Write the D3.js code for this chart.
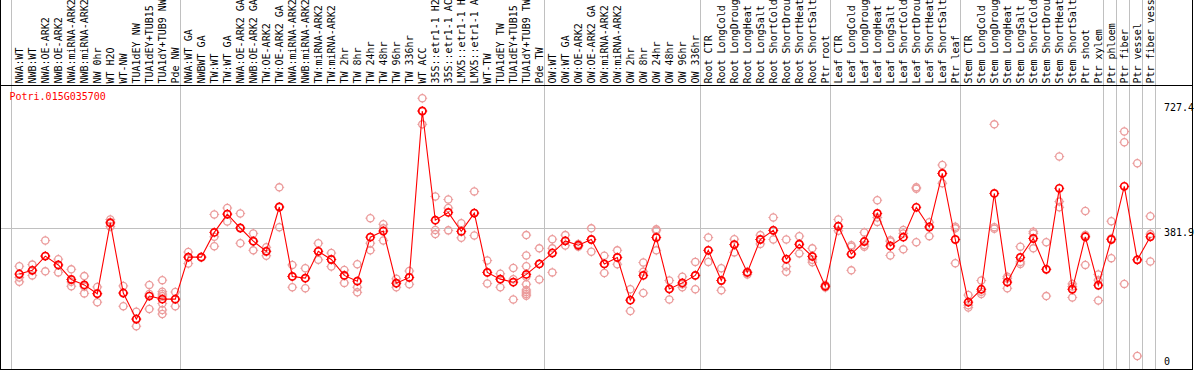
<!DOCTYPE html>
<html><head><meta charset="utf-8">
<script src="https://cdn.jsdelivr.net/npm/d3@7"></script>
<style>
body{margin:0;background:#fff}
svg{display:block}
text{font-family:"DejaVu Sans Mono",monospace;font-size:10px}
</style>
</head><body>
<svg id="c" width="1194" height="370"></svg>
<script>
const geneName = "Potri.015G035700";
const categories = [
"NWA:WT","NWB:WT","NWA:OE-ARK2","NWB:OE-ARK2","NWA:miRNA-ARK2","NWB:miRNA-ARK2","NW 0hr","WT H2O","WT-NW","TUA1dEY NW","TUA1dEY+TUB15 NW","TUA1dY+TUB9 NW","Pde NW",
"NWA:WT GA","NWBWT GA","TW:WT","TW:WT GA","NWA:OE-ARK2 GA","NWB:OE-ARK2 GA","TW:OE-ARK2","TW:OE-ARK2 GA","NWA:miRNA-ARK2 GA","NWB:miRNA-ARK2 GA","TW:miRNA-ARK2","TW:miRNA-ARK2 GA","TW 2hr","TW 8hr","TW 24hr","TW 48hr","TW 96hr","TW 336hr","WT ACC","35S::etr1-1 H2O","35S::etr1-1 ACC","LMX5::etr1-1 H2O","LMX5::etr1-1 ACC","WT-TW","TUA1dEY TW","TUA1dEY+TUB15 TW","TUA1dY+TUB9 TW","Pde TW",
"OW:WT","OW:WT GA","OW:OE-ARK2","OW:OE-ARK2 GA","OW:miRNA-ARK2","OW:miRNA-ARK2 GA","OW 2hr","OW 8hr","OW 24hr","OW 48hr","OW 96hr","OW 336hr",
"Root CTR","Root LongCold","Root LongDrought","Root LongHeat","Root LongSalt","Root ShortCold","Root ShortDrought","Root ShortHeat","Root ShortSalt","Ptr root",
"Leaf CTR","Leaf LongCold","Leaf LongDrought","Leaf LongHeat","Leaf LongSalt","Leaf ShortCold","Leaf ShortDrought","Leaf ShortHeat","Leaf ShortSalt","Ptr leaf",
"Stem CTR","Stem LongCold","Stem LongDrought","Stem LongHeat","Stem LongSalt","Stem ShortCold","Stem ShortDrought","Stem ShortHeat","Stem ShortSalt","Ptr shoot","Ptr xylem",
"Ptr phloem","Ptr fiber","Ptr vessel","Ptr fiber vessel"
];
const means = [
246,257,299,273,230,214,188,397,190,113,181,172,172,
296,296,369,423,382,343,313,444,239,
234,313,289,242,225,355,373,219,236,727.4,405,428,372,426,251,231,222,245,276,
308,344,331,348,
276,295,169,242,354,202,220,242,
316,227,333,251,348,375,290,334,298,210,
387,305,342,425,329,355,443,385,543,348,
163,201,484,222,295,351,260,499,201,356,
213,348,505,288,356
];
const replicates = [
[269,236,223],[274,257,242],[345,299,254],[290,273,251],[260,223,210],[240,209,189],[208,188,163],[407,400,386],[211,190,151],[135,113,92],[214,187,143],[228,194,187,181,159,140,128],[193,172,151],
[311,296,277],[297,296,295],[422,356,328],[441,423,401],[425,382,337],[366,343,316],[325,313,300],[502,444,384],[273,239,207],
[263,234,204],[337,313,288],[308,289,268],[258,242,220],[275,207,192],[411,337,316],[393,381,345],[232,219,207],[255,236,216],[765,727,688],[475,376,364],[466,441,375],[396,372,353],[490,426,360],[286,251,218],[247,231,207],[264,231,171],[361,301,269,238,216,199,193,187,182],[322,276,230],
[349,322,251],[361,344,330],[335,331,327],[381,348,312],
[300,276,249],[316,295,275],[201,169,137],[280,253,190],[378,374,316],[227,202,171],[238,216,207],[282,242,201],
[354,316,282],[263,227,198],[349,333,310],[253,250,245],[361,348,335],[413,375,348],[348,268,253],[358,334,307],[322,288,281],[214,210,206],
[407,387,374],[331,327,257],[369,332,327],[464,413,400],[346,342,301],[376,366,319],[502,498,340],[399,385,358],[568,543,514],[386,381,278],
[184,154,147],[227,194,187],[688,384,380],[238,233,204],[327,282,276],[371,366,322],[340,260,181],[593,460,443],[217,209,177],[432,361,273],
[245,228,168],[402,351,293],[667,635,217],[573,288,4],[417,364,283]
];
const groupStarts = [0,13,41,53,63,73,84,85,86,87,88];
const refValue = 381.9;
const yTicks = [0, 381.9, 727.4];

const W = 1194, H = 370;
const headerY = 85.5, bottomY = 369.5;
const svg = d3.select("#c");

const x = d3.scaleLinear().domain([0, categories.length - 1]).range([19.3, 1150.3]);
const y = d3.scaleLinear().domain([0, 727.4]).range([357.4, 111]);

const grid = "#c0c0c0";
// vertical group gridlines
svg.append("g").selectAll("line").data(groupStarts).join("line")
  .attr("x1", d => Math.round(x(d) - 8) + 0.5).attr("x2", d => Math.round(x(d) - 8) + 0.5)
  .attr("y1", 0).attr("y2", bottomY)
  .attr("stroke", grid).attr("stroke-width", 1);
// horizontal reference gridline
svg.append("line")
  .attr("x1", 1).attr("x2", 1161)
  .attr("y1", Math.round(y(refValue)) + 0.5).attr("y2", Math.round(y(refValue)) + 0.5)
  .attr("stroke", grid).attr("stroke-width", 1);

// frame
svg.append("line").attr("x1", 0.5).attr("x2", 0.5).attr("y1", 0).attr("y2", H).attr("stroke", "#000");
svg.append("line").attr("x1", 1192.5).attr("x2", 1192.5).attr("y1", 0).attr("y2", H).attr("stroke", "#000");
svg.append("line").attr("x1", 0).attr("x2", 1193).attr("y1", headerY).attr("y2", headerY).attr("stroke", "#000");
svg.append("line").attr("x1", 0).attr("x2", 1193).attr("y1", bottomY).attr("y2", bottomY).attr("stroke", "#000");

// category labels
svg.append("g").selectAll("text").data(categories).join("text")
  .attr("transform", (d, i) => `translate(${x(i) + 4},83.5) rotate(-90)`)
  .attr("fill", "#000")
  .text(d => d);

// title
svg.append("text").attr("x", 9.5).attr("y", 99.5).attr("fill", "#ff0000").text(geneName);

// right axis labels
svg.append("g").selectAll("text").data(yTicks).join("text")
  .attr("x", 1164)
  .attr("y", d => d === d3.max(yTicks) ? y(d) - 0.5 : y(d) + 8)
  .attr("fill", "#000")
  .text(d => d === 0 ? "0" : d3.format(".1f")(d));

function marker(g, cx, cy, color, sw) {
  const r = 3.6;
  g.append("circle").attr("cx", cx).attr("cy", cy).attr("r", r)
    .attr("fill", "none").attr("stroke", color).attr("stroke-width", sw);
  const t = 1.3;
  g.append("path")
    .attr("d", `M${cx},${cy - r - t}V${cy - r + 0.3}M${cx},${cy + r - 0.3}V${cy + r + t}M${cx - r - t},${cy}H${cx - r + 0.3}M${cx + r - 0.3},${cy}H${cx + r + t}`)
    .attr("stroke", color).attr("stroke-width", 1).attr("fill", "none");
}

// replicates
const repG = svg.append("g");
replicates.forEach((arr, i) => arr.forEach(v => marker(repG, x(i), y(v), "#eb9b9b", 1.3)));

// mean line
svg.append("path")
  .datum(means)
  .attr("d", d3.line().x((d, i) => x(i)).y(d => y(d)))
  .attr("fill", "none").attr("stroke", "#ff0000").attr("stroke-width", 1.1);

// mean markers
const meanG = svg.append("g");
means.forEach((v, i) => marker(meanG, x(i), y(v), "#ff0000", 1.7));
</script>
</body></html>
